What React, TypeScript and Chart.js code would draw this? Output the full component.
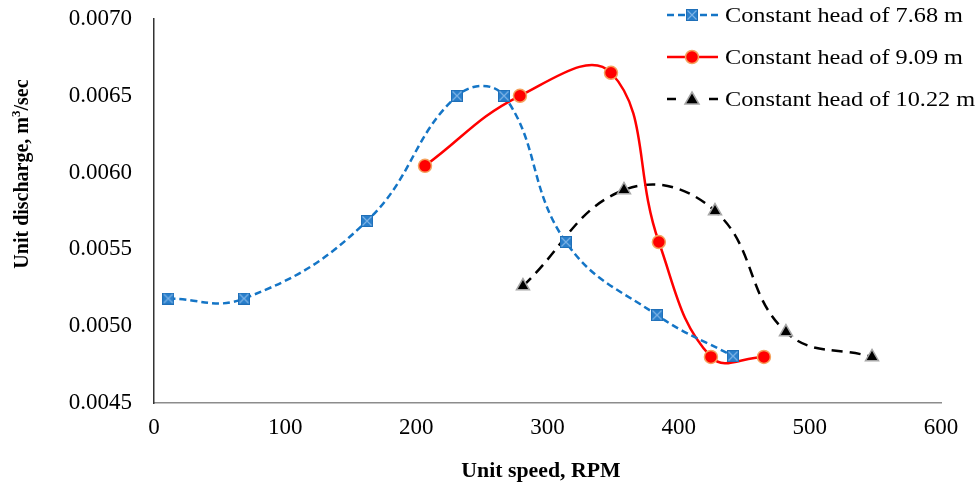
import React, { useEffect, useRef } from "react";
import { Chart, registerables } from "chart.js";

Chart.register(...registerables);

// Data
const speed768 = [10.9, 68.6, 162.4, 231, 266.8, 314, 383.5, 441.4];
const discharge768 = [0.00518, 0.00518, 0.005685, 0.0065, 0.0065, 0.005548, 0.005072, 0.004805];

const speed909 = [206.6, 279, 348.4, 384.9, 424.6, 465];
const discharge909 = [0.006044, 0.0065, 0.00665, 0.005548, 0.0048, 0.0048];

const speed1022 = [281.3, 358.3, 427.7, 481.8, 547.4];
const discharge1022 = [0.005261, 0.005887, 0.00575, 0.004962, 0.0048];

const seriesLabels = ["Constant head of 7.68 m", "Constant head of 9.09 m", "Constant head of 10.22 m"];
const xTitle = "Unit speed, RPM";
const yTitleMain = "Unit discharge, m";
const yTitleSup = "3";
const yTitleEnd = "/sec";

const FONT = '"Liberation Serif", "Times New Roman", serif';
const BLUE = "#1475C6";
const RED = "#FF0000";
const BLACK = "#000000";

function makeBlueMarker(): HTMLCanvasElement {
  const c = document.createElement("canvas");
  c.width = 12;
  c.height = 12;
  const ctx = c.getContext("2d")!;
  ctx.fillStyle = "#2A7FCB";
  ctx.fillRect(0.5, 0.5, 11, 11);
  ctx.strokeStyle = "#7DB3E6";
  ctx.lineWidth = 1.2;
  ctx.beginPath();
  ctx.moveTo(1.5, 1.5);
  ctx.lineTo(10.5, 10.5);
  ctx.moveTo(10.5, 1.5);
  ctx.lineTo(1.5, 10.5);
  ctx.stroke();
  ctx.strokeStyle = "#1F6FB8";
  ctx.lineWidth = 1;
  ctx.strokeRect(0.5, 0.5, 11, 11);
  return c;
}

function toPoints(xs: number[], ys: number[]) {
  return xs.map((x, i) => ({ x, y: ys[i] }));
}

export default function App() {
  const ref = useRef<HTMLCanvasElement | null>(null);

  useEffect(() => {
    document.body.style.margin = "0";
    const canvas = ref.current!;
    const blueMarker = makeBlueMarker();

    const overlay = {
      id: "overlay",
      afterDraw(chart: any) {
        const ctx = chart.ctx as CanvasRenderingContext2D;
        ctx.save();
        // X title
        ctx.fillStyle = "#000";
        ctx.font = `bold 20px ${FONT}`;
        ctx.textAlign = "center";
        ctx.textBaseline = "middle";
        ctx.translate(541, 472);
        ctx.scale(1.09, 1);
        ctx.fillText(xTitle, 0, 0);
        ctx.restore();

        // Y title with superscript
        ctx.save();
        ctx.fillStyle = "#000";
        ctx.translate(21, 174);
        ctx.rotate(-Math.PI / 2);
        const f1 = `bold 20px ${FONT}`;
        const f2 = `bold 13px ${FONT}`;
        ctx.font = f1;
        const w1 = ctx.measureText(yTitleMain).width;
        const w3 = ctx.measureText(yTitleEnd).width;
        ctx.font = f2;
        const w2 = ctx.measureText(yTitleSup).width;
        const total = w1 + w2 + w3;
        let x0 = -total / 2;
        ctx.textAlign = "left";
        ctx.textBaseline = "alphabetic";
        ctx.font = f1;
        ctx.fillText(yTitleMain, x0, 7);
        x0 += w1;
        ctx.font = f2;
        ctx.fillText(yTitleSup, x0, -1);
        x0 += w2;
        ctx.font = f1;
        ctx.fillText(yTitleEnd, x0, 7);
        ctx.restore();

        // Legend
        ctx.save();
        const rows = [15, 57, 99];
        const lx0 = 667;
        const lx1 = 718;
        const mx = 692;
        rows.forEach((y, i) => {
          ctx.save();
          ctx.beginPath();
          if (i === 0) {
            ctx.strokeStyle = BLUE;
            ctx.lineWidth = 2.5;
            ctx.setLineDash([7, 4]);
          } else if (i === 1) {
            ctx.strokeStyle = RED;
            ctx.lineWidth = 2.5;
            ctx.setLineDash([]);
          } else {
            ctx.strokeStyle = BLACK;
            ctx.lineWidth = 2.5;
            ctx.setLineDash([]);
          }
          if (i === 2) {
            ctx.moveTo(lx0, y);
            ctx.lineTo(lx0 + 9, y);
            ctx.moveTo(lx1 - 9, y);
            ctx.lineTo(lx1, y);
          } else {
            ctx.moveTo(lx0, y);
            ctx.lineTo(lx1, y);
          }
          ctx.stroke();
          ctx.restore();
          // marker
          if (i === 0) {
            ctx.drawImage(blueMarker, mx - 6, y - 6);
          } else if (i === 1) {
            ctx.beginPath();
            ctx.arc(mx, y, 6.5, 0, Math.PI * 2);
            ctx.fillStyle = RED;
            ctx.fill();
            ctx.strokeStyle = "#F5A25D";
            ctx.lineWidth = 1.5;
            ctx.stroke();
          } else {
            ctx.beginPath();
            ctx.moveTo(mx, y - 7);
            ctx.lineTo(mx + 7, y + 5);
            ctx.lineTo(mx - 7, y + 5);
            ctx.closePath();
            ctx.fillStyle = "#000";
            ctx.fill();
            ctx.strokeStyle = "#A6A6A6";
            ctx.lineWidth = 1.5;
            ctx.stroke();
          }
          ctx.save();
          ctx.fillStyle = "#000";
          ctx.font = `21px ${FONT}`;
          ctx.textAlign = "left";
          ctx.textBaseline = "middle";
          const w = ctx.measureText(seriesLabels[0]).width;
          const sx = 238 / w;
          ctx.translate(725, y + 1);
          ctx.scale(sx, 1);
          ctx.fillText(seriesLabels[i], 0, 0);
          ctx.restore();
        });
        ctx.restore();
      },
    };

    const chart = new Chart(canvas, {
      type: "line",
      data: {
        datasets: [
          {
            label: seriesLabels[0],
            data: toPoints(speed768, discharge768),
            borderColor: BLUE,
            borderWidth: 2.5,
            borderDash: [7, 4],
            pointStyle: blueMarker as any,
            pointRadius: 6,
            tension: 0.42,
            fill: false,
          },
          {
            label: seriesLabels[1],
            data: toPoints(speed909, discharge909),
            borderColor: RED,
            borderWidth: 2.5,
            pointStyle: "circle",
            pointRadius: 6.5,
            pointBackgroundColor: RED,
            pointBorderColor: "#F5A25D",
            pointBorderWidth: 1.5,
            tension: 0.42,
            fill: false,
          },
          {
            label: seriesLabels[2],
            data: toPoints(speed1022, discharge1022),
            borderColor: BLACK,
            borderWidth: 2.5,
            borderDash: [11, 7],
            pointStyle: "triangle",
            pointRadius: 7.5,
            pointBackgroundColor: "#000",
            pointBorderColor: "#A6A6A6",
            pointBorderWidth: 1.5,
            tension: 0.42,
            fill: false,
          },
        ],
      },
      options: {
        responsive: false,
        animation: false,
        layout: { padding: { top: 19, right: 38, left: 0, bottom: 0 } },
        plugins: {
          legend: { display: false },
          tooltip: { enabled: false },
          title: { display: false },
        },
        scales: {
          x: {
            type: "linear",
            min: 0,
            max: 600,
            ticks: {
              stepSize: 100,
              padding: 11,
              color: "#000",
              font: { family: FONT, size: 23 },
              maxRotation: 0,
            },
            grid: { display: false, drawTicks: false },
            border: { display: true, color: "#8C8C8C", width: 1.5 },
            afterFit: (s: any) => {
              s.height = 85;
            },
          },
          y: {
            type: "linear",
            min: 0.0045,
            max: 0.007,
            ticks: {
              stepSize: 0.0005,
              padding: 22,
              color: "#000",
              font: { family: FONT, size: 23 },
              callback: (v: any) => Number(v).toFixed(4),
            },
            grid: { display: false, drawTicks: false },
            border: { display: true, color: "#333333", width: 1.5 },
            afterFit: (s: any) => {
              s.width = 154;
              s.paddingTop = 0;
              s.paddingBottom = 0;
            },
          },
        },
      },
      plugins: [overlay],
    });

    return () => chart.destroy();
  }, []);

  return (
    <div style={{ width: 979, height: 488 }}>
      <canvas ref={ref} width={979} height={488} style={{ display: "block" }} />
    </div>
  );
}
